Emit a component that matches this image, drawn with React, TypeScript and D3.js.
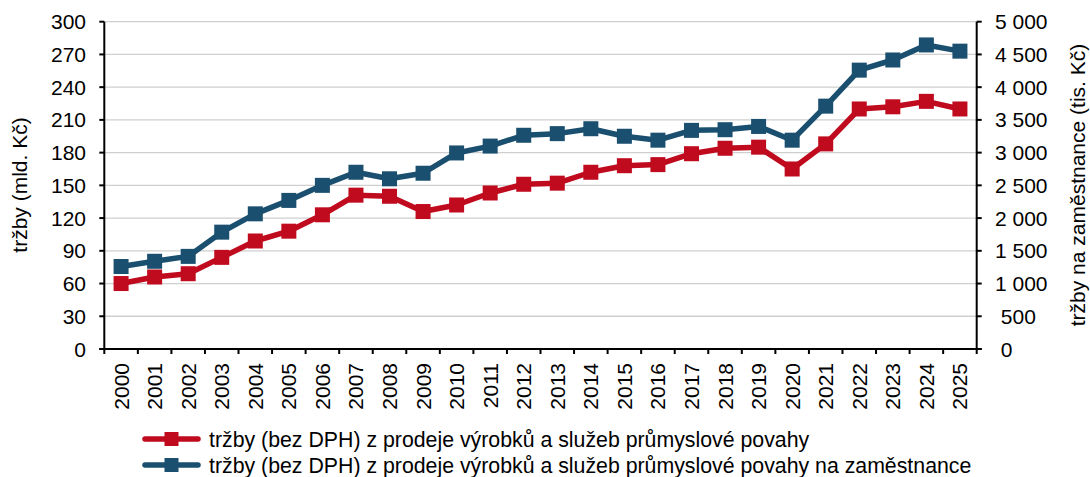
import * as d3 from "d3";

const years = d3.range(2000, 2026).map(String);

// tržby (bez DPH), mld. Kč – left axis
const salesTotal = [
  60, 66, 69, 84, 99, 108, 123, 141, 140, 126, 132, 143, 151, 152, 162, 168,
  169, 179, 184, 185, 165, 188, 220, 222, 227, 220,
];

// tržby na zaměstnance, tis. Kč – right axis
const salesPerEmployee = [
  1260, 1340, 1415, 1785, 2065, 2270, 2500, 2700, 2600, 2685, 2995, 3100,
  3265, 3290, 3365, 3250, 3190, 3340, 3350, 3400, 3190, 3710, 4260, 4415,
  4645, 4550,
];

const leftTicks = d3.range(0, 301, 30);
const rightTicks = d3.range(0, 5001, 500);

const legendLabels = [
  "tržby (bez DPH) z prodeje výrobků a služeb průmyslové povahy",
  "tržby (bez DPH) z prodeje výrobků a služeb průmyslové povahy na zaměstnance",
];

const RED = "#c00a1e";
const BLUE = "#1a4f6f";
const FONT = "'Liberation Sans', Arial, sans-serif";
const FS = 21;

const W = 1090;
const H = 477;
const plot = { left: 104.3, right: 976.7, top: 21.7, bottom: 349 };

const fmtThousands = (v: number) =>
  v >= 1000 ? d3.format(",")(v).replace(/,/g, " ") : " " + v;

export default function App() {
  const x = d3
    .scaleBand<string>()
    .domain(years)
    .range([plot.left, plot.right])
    .padding(0);
  const yL = d3.scaleLinear().domain([0, 300]).range([plot.bottom, plot.top]);
  const yR = d3.scaleLinear().domain([0, 5000]).range([plot.bottom, plot.top]);
  const cx = (y: string) => (x(y) || 0) + x.bandwidth() / 2;

  const lineL = d3
    .line<number>()
    .x((_, i) => cx(years[i]))
    .y((d) => yL(d));
  const lineR = d3
    .line<number>()
    .x((_, i) => cx(years[i]))
    .y((d) => yR(d));

  const series = [
    { values: salesTotal, y: yL, line: lineL, color: RED },
    { values: salesPerEmployee, y: yR, line: lineR, color: BLUE },
  ];

  const M = 15;
  const boundaries = years.map((y) => x(y) || 0).concat([plot.right]);

  return (
    <svg
      width={W}
      height={H}
      style={{ position: "absolute", left: 0, top: 0, background: "#fff" }}
      fontFamily={FONT}
      fontSize={FS}
    >
      {/* gridlines */}
      {leftTicks
        .filter((t) => t > 0)
        .map((t) => (
          <line
            key={"g" + t}
            x1={plot.left}
            x2={plot.right}
            y1={yL(t)}
            y2={yL(t)}
            stroke="#cfcfcf"
            strokeWidth={1.3}
          />
        ))}

      {/* axes */}
      <line x1={plot.left} x2={plot.left} y1={plot.top} y2={plot.bottom} stroke="#000" strokeWidth={2} />
      <line x1={plot.right} x2={plot.right} y1={plot.top} y2={plot.bottom} stroke="#000" strokeWidth={2} />
      <line x1={plot.left - 5} x2={plot.right + 5} y1={plot.bottom} y2={plot.bottom} stroke="#000" strokeWidth={2} />

      {leftTicks.map((t) => (
        <g key={"l" + t}>
          <line x1={plot.left - 5} x2={plot.left} y1={yL(t)} y2={yL(t)} stroke="#000" strokeWidth={2} />
          <text x={86} y={yL(t)} dy="0.36em" textAnchor="end" fill="#000">
            {t}
          </text>
        </g>
      ))}

      {rightTicks.map((t) => (
        <g key={"r" + t}>
          <line x1={plot.right} x2={plot.right + 5} y1={yR(t)} y2={yR(t)} stroke="#000" strokeWidth={2} />
          <text
            x={995}
            y={yR(t)}
            dy="0.36em"
            textAnchor="start"
            fill="#000"
            style={{ whiteSpace: "pre" }}
          >
            {fmtThousands(t)}
          </text>
        </g>
      ))}

      {boundaries.map((b, i) => (
        <line key={"t" + i} x1={b} x2={b} y1={plot.bottom} y2={plot.bottom + 5} stroke="#000" strokeWidth={2} />
      ))}

      {years.map((y) => (
        <text
          key={"x" + y}
          transform={`translate(${cx(y) + 7.5}, 363) rotate(-90)`}
          textAnchor="end"
          fill="#000"
        >
          {y}
        </text>
      ))}

      {/* axis titles */}
      <text transform={`translate(27, 185) rotate(-90)`} textAnchor="middle" fill="#000">
        tržby (mld. Kč)
      </text>
      <text transform={`translate(1085, 185) rotate(-90)`} textAnchor="middle" fill="#000">
        tržby na zaměstnance (tis. Kč)
      </text>

      {/* series */}
      {series.map((s, si) => (
        <g key={"s" + si}>
          <path d={s.line(s.values) || ""} fill="none" stroke={s.color} strokeWidth={5.5} strokeLinejoin="round" />
          {s.values.map((v, i) => (
            <rect
              key={i}
              x={cx(years[i]) - M / 2}
              y={s.y(v) - M / 2}
              width={M}
              height={M}
              fill={s.color}
            />
          ))}
        </g>
      ))}

      {/* legend */}
      {legendLabels.map((label, i) => {
        const ly = 439 + i * 26;
        const color = i === 0 ? RED : BLUE;
        return (
          <g key={"lg" + i}>
            <line x1={145} x2={198} y1={ly} y2={ly} stroke={color} strokeWidth={5.5} strokeLinecap="round" />
            <rect x={171.5 - 7} y={ly - 7} width={14} height={14} fill={color} />
            <text x={209} y={ly} dy="0.36em" fill="#000" fontSize={21.3}>
              {label}
            </text>
          </g>
        );
      })}
    </svg>
  );
}
